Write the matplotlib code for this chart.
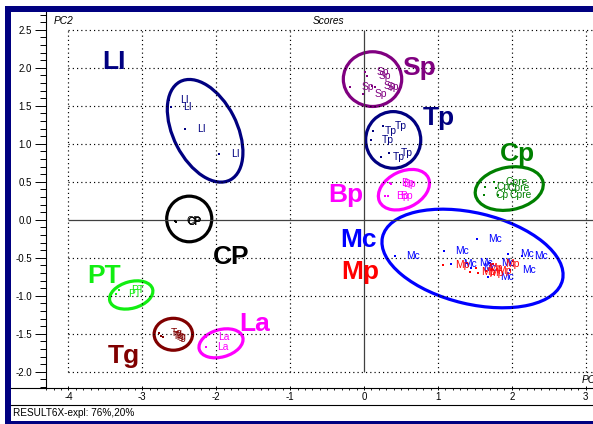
import matplotlib
matplotlib.use('Agg')
import matplotlib.pyplot as plt
from matplotlib.patches import Ellipse, Rectangle
from matplotlib.lines import Line2D
from matplotlib.ticker import MultipleLocator, FormatStrFormatter

plt.rcParams['font.family'] = ['Liberation Sans', 'DejaVu Sans']

# PCA scores (PC1, PC2), one small set per group
li_x = [-2.64, -2.61, -2.42, -1.96]
li_y = [1.575, 1.48, 1.20, 0.87]

sp_x = [0.01, 0.04, -0.19, 0.11, 0.15, -0.01]
sp_y = [1.95, 1.89, 1.75, 1.76, 1.74, 1.66]

tp_x = [0.12, 0.26, 0.09, 0.23, 0.34]
tp_y = [1.17, 1.23, 1.05, 0.83, 0.88]

bp_x = [0.345, 0.37, 0.28, 0.33]
bp_y = [0.48, 0.47, 0.31, 0.31]

cp_x = [1.76, 1.64, 1.79, 1.62, 1.81]
cp_y = [0.50, 0.43, 0.42, 0.325, 0.325]
cp_names = ['Cpre', 'Cp', 'Cpre', 'Cp', 'Cpre']

cpb_x = [-2.56, -2.55, -2.545]
cpb_y = [-0.02, -0.035, -0.025]

mc_x = [1.53, 1.08, 0.42, 1.95, 2.14, 1.98, 1.18, 1.40, 1.70, 1.68, 1.45]
mc_y = [-0.25, -0.405, -0.475, -0.445, -0.478, -0.668, -0.576, -0.57, -0.57, -0.75, -0.636]

mp_x = [1.07, 1.75, 1.43, 1.54, 1.65, 1.52]
mp_y = [-0.59, -0.583, -0.688, -0.70, -0.675, -0.636]

pt_x = [-3.31, -3.35]
pt_y = [-0.92, -0.98]

tg_x = [-2.77, -2.75, -2.72]
tg_y = [-1.49, -1.524, -1.543]

la_x = [-2.134, -2.142]
la_y = [-1.539, -1.671]

# confidence ellipses drawn round each group
ell_cx = [-2.15, 0.115, 0.395, 0.54, 1.965, -2.365, 1.468, -3.15, -2.58, -1.935]
ell_cy = [1.17, 1.85, 1.05, 0.395, 0.41, 0.01, -0.51, -0.99, -1.507, -1.626]
ell_w = [1.46, 0.79, 0.745, 0.73, 0.93, 0.61, 2.50, 0.60, 0.52, 0.61]
ell_h = [0.86, 0.72, 0.745, 0.48, 0.56, 0.60, 1.20, 0.35, 0.42, 0.36]
ell_ang = [118, 0, 0, 25, 10, 0, -13, 15, 0, 15]

# big group names
group_names = ['LI', 'Sp', 'Tp', 'Cp', 'Bp', 'CP', 'Mc', 'Mp', 'PT', 'Tg', 'La']
group_lx = [-3.38, 0.747, 1.01, 2.07, -0.246, -1.80, -0.068, -0.054, -3.52, -3.254, -1.475]
group_ly = [1.98, 1.904, 1.246, 0.776, 0.229, -0.583, -0.363, -0.78, -0.833, -1.886, -1.461]

NAVY = '#000080'
PURPLE = '#800080'
MAGENTA = '#ff00ff'
GREEN = '#008000'
BLUE = '#0000ff'
RED = '#ff0000'
LIME = '#11ee11'
MAROON = '#800000'

ell_colors = [NAVY, PURPLE, NAVY, MAGENTA, GREEN, 'black', BLUE, LIME, MAROON, MAGENTA]
group_colors = [NAVY, PURPLE, NAVY, GREEN, MAGENTA, 'black', BLUE, RED, LIME, MAROON, MAGENTA]

samples = [
    (li_x, li_y, ['LI'] * len(li_x), NAVY),
    (sp_x, sp_y, ['Sp'] * len(sp_x), PURPLE),
    (tp_x, tp_y, ['Tp'] * len(tp_x), NAVY),
    (bp_x, bp_y, ['Bp'] * len(bp_x), MAGENTA),
    (cp_x, cp_y, cp_names, GREEN),
    (cpb_x, cpb_y, ['CP'] * len(cpb_x), 'black'),
    (mc_x, mc_y, ['Mc'] * len(mc_x), BLUE),
    (mp_x, mp_y, ['Mp'] * len(mp_x), RED),
    (pt_x, pt_y, ['PT'] * len(pt_x), LIME),
    (tg_x, tg_y, ['Tg'] * len(tg_x), MAROON),
    (la_x, la_y, ['La'] * len(la_x), MAGENTA),
]

W, H = 593, 424
fig = plt.figure(figsize=(W / 100, H / 100), dpi=100)
fig.patch.set_facecolor('white')

# axes box in pixels: y axis at x=46, x axis at y=388
ax = fig.add_axes([46 / W, (H - 388) / H, (600 - 46) / W, (388 - 12) / H])
ax.set_xlim(-4.303, 3.193)
ax.set_ylim(-2.214, 2.733)
ax.set_facecolor('white')
for side in ['top', 'right']:
    ax.spines[side].set_visible(False)
for side in ['left', 'bottom']:
    ax.spines[side].set_linewidth(0.8)

# dotted grid only over the scored region, solid zero lines
dots = (0, (1, 2.6))
grid_x = [-4, -3, -2, -1, 1, 2, 3]
grid_y = [-2.0, -1.5, -1.0, -0.5, 0.5, 1.0, 1.5, 2.0, 2.5]
ax.hlines(grid_y, -4, 3.3, colors='black', linestyles=dots, lw=0.85)
ax.vlines(grid_x, -2, 2.5, colors='black', linestyles=dots, lw=0.85)
ax.hlines(0, -4, 3.3, colors='#404040', lw=0.9)
ax.vlines(0, -2, 2.5, colors='#404040', lw=0.9)

ax.xaxis.set_major_locator(MultipleLocator(1))
ax.xaxis.set_minor_locator(MultipleLocator(0.1))
ax.yaxis.set_major_locator(MultipleLocator(0.5))
ax.yaxis.set_minor_locator(MultipleLocator(0.1))
ax.yaxis.set_major_formatter(FormatStrFormatter('%.1f'))
ax.xaxis.set_major_formatter(FormatStrFormatter('%d'))
ax.tick_params(axis='y', which='major', direction='out', length=7.9, width=0.7, pad=2.4, labelsize=7)
ax.tick_params(axis='y', which='minor', direction='out', length=4.3, width=0.7)
ax.tick_params(axis='x', which='major', direction='inout', length=3.4, width=0.7, pad=1.5, labelsize=7)
ax.tick_params(axis='x', which='minor', direction='out', length=1.5, width=0.6)

for cx, cy, w, h, a, c in zip(ell_cx, ell_cy, ell_w, ell_h, ell_ang, ell_colors):
    ax.add_patch(Ellipse((cx, cy), w, h, angle=a, fill=False, ec=c, lw=2.3))

for xs, ys, names, c in samples:
    ax.plot(xs, ys, 's', ms=1.6, mew=0, color=c)
    for x, y, n in zip(xs, ys, names):
        ax.annotate(n, (x, y), xytext=(8.3, 0), textcoords='offset points',
                    ha='left', va='center', fontsize=7.4, color=c)

for n, x, y, c in zip(group_names, group_lx, group_ly, group_colors):
    ax.text(x, y, n, ha='center', va='baseline', fontsize=19, fontweight='bold', color=c)


def fx(px):
    return px / W


def fy(py):
    return 1 - py / H


# window frame
fig.add_artist(Rectangle((fx(5), fy(11.5)), fx(600) - fx(5), 5 / H, color=NAVY, lw=0))
fig.add_artist(Rectangle((fx(5), 0), 5.5 / W, fy(6.5), color=NAVY, lw=0))
fig.add_artist(Rectangle((fx(5), 0), fx(600) - fx(5), 3 / H, color=NAVY, lw=0))

# x axis line runs left past the y axis, footer separator below the ticks
fig.add_artist(Line2D([fx(10.5), fx(46)], [fy(388), fy(388)], color='black', lw=0.8))
fig.add_artist(Line2D([fx(10.5), fx(600)], [fy(405), fy(405)], color='black', lw=0.8))

fig.text(fx(54), fy(21.5), 'PC2', fontsize=7.3, style='italic', va='center', ha='left')
fig.text(fx(313), fy(21.5), 'Scores', fontsize=7.3, style='italic', va='center', ha='left')
fig.text(fx(582), fy(380), 'PC1', fontsize=7.3, style='italic', va='center', ha='left')
fig.text(fx(13), fy(412.5), 'RESULT6X-expl: 76%,20%', fontsize=7.2, va='center', ha='left')

fig.savefig('out.png', dpi=100, facecolor='white')
